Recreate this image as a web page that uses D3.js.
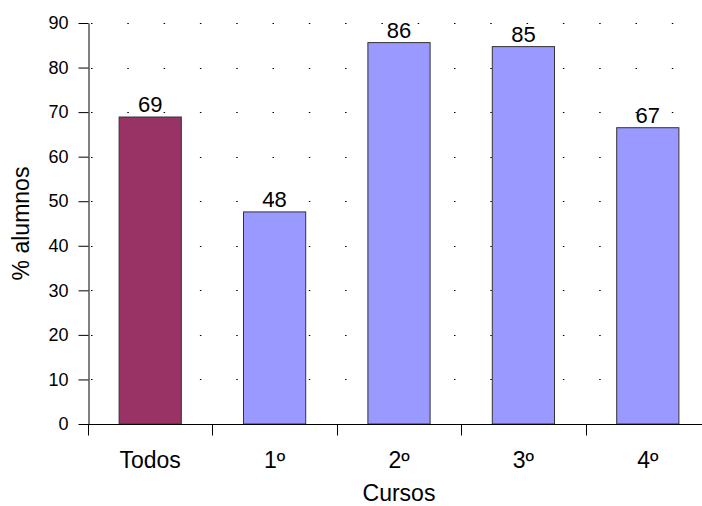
<!DOCTYPE html>
<html>
<head>
<meta charset="utf-8">
<script src="https://cdn.jsdelivr.net/npm/d3@7"></script>
<style>
  body { margin: 0; background: #fff; }
  svg text { font-family: "Liberation Sans", Arial, sans-serif; fill: #000; }
</style>
</head>
<body>
<div id="chart"></div>
<script>
var categories = ['Todos', '1º', '2º', '3º', '4º'];
var values = [68.9, 47.6, 85.6, 84.7, 66.5];
var valueLabels = ['69', '48', '86', '85', '67'];
var barColors = ['#993366', '#9999FF', '#9999FF', '#9999FF', '#9999FF'];
var yTicks = [0, 10, 20, 30, 40, 50, 60, 70, 80, 90];

// plot box, right edge runs a bit past the window like the original
var margin = {top: 23, right: -8, bottom: 82, left: 88},
    W = 702, H = 506,
    width = W - margin.left - margin.right,
    height = H - margin.top - margin.bottom;

var svg = d3.select('#chart')
  .append('svg')
    .attr('width', W)
    .attr('height', H)
  .append('g')
    .attr('transform', 'translate(' + margin.left + ',' + margin.top + ')');

var x = d3.scaleBand()
    .domain(categories)
    .range([0, width])
    .paddingInner(0.5)
    .paddingOuter(0.25);

var y = d3.scaleLinear()
    .domain([0, 90])
    .range([height, 0]);

// dotted gridlines
svg.selectAll('.grid')
    .data(yTicks.slice(1))
    .enter()
    .append('line')
      .attr('x1', 3)
      .attr('x2', width)
      .attr('y1', function(d) { return Math.round(y(d)) + 0.5; })
      .attr('y2', function(d) { return Math.round(y(d)) + 0.5; })
      .attr('stroke', '#000')
      .attr('stroke-width', 1)
      .attr('stroke-dasharray', '1.5,34.8');

// bars
svg.selectAll('.bar')
    .data(values)
    .enter()
    .append('rect')
      .attr('x', function(d, i) { return x(categories[i]); })
      .attr('y', function(d) { return y(d); })
      .attr('width', x.bandwidth())
      .attr('height', function(d) { return height - y(d); })
      .attr('fill', function(d, i) { return barColors[i]; })
      .attr('stroke', '#333')
      .attr('stroke-width', 1);

// value labels
svg.selectAll('.val')
    .data(values)
    .enter()
    .append('text')
      .attr('x', function(d, i) { return x(categories[i]) + x.bandwidth() / 2; })
      .attr('y', function(d) { return y(d) - 5; })
      .attr('text-anchor', 'middle')
      .style('font-size', '22px')
      .text(function(d, i) { return valueLabels[i]; });

// y axis
var yAxis = svg.append('g')
    .attr('transform', 'translate(0.5,0)')
    .call(d3.axisLeft(y).tickValues(yTicks).tickSize(10).tickSizeOuter(0).tickPadding(10));
yAxis.selectAll('text').style('font-size', '18px').attr('fill', '#000');
yAxis.selectAll('line, path').attr('stroke', '#000');

// x axis, ticks on the band edges
var xAxis = svg.append('g')
    .attr('transform', 'translate(0,' + (Math.round(height) + 0.5) + ')');
xAxis.append('line')
    .attr('x1', 0).attr('x2', width)
    .attr('stroke', '#000');
xAxis.selectAll('.xt')
    .data(categories)
    .enter()
    .append('line')
      .attr('x1', function(d) { return Math.round(x(d) - x.step() * 0.25) + 0.5; })
      .attr('x2', function(d) { return Math.round(x(d) - x.step() * 0.25) + 0.5; })
      .attr('y2', 11)
      .attr('stroke', '#000');
xAxis.selectAll('.xl')
    .data(categories)
    .enter()
    .append('text')
      .attr('x', function(d) { return x(d) + x.bandwidth() / 2; })
      .attr('y', 43)
      .attr('text-anchor', 'middle')
      .style('font-size', '23px')
      .text(function(d) { return d; });

// axis titles
svg.append('text')
    .attr('x', width / 2)
    .attr('y', height + 77)
    .attr('text-anchor', 'middle')
    .style('font-size', '23px')
    .text('Cursos');

svg.append('text')
    .attr('transform', 'translate(' + (29 - margin.left) + ',' + (height / 2) + ')rotate(-90)')
    .attr('text-anchor', 'middle')
    .style('font-size', '23px')
    .text('% alumnos');
</script>
</body>
</html>
